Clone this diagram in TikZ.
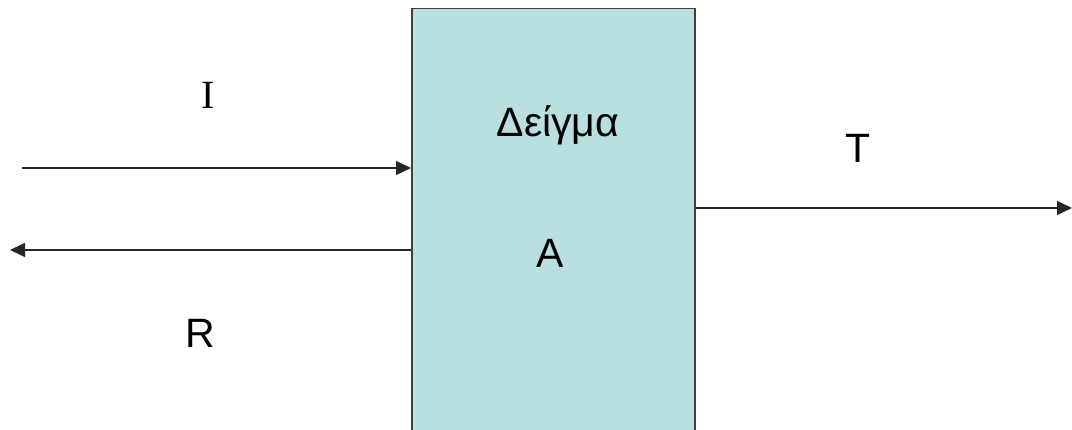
\documentclass[tikz,border=0pt]{standalone}
\usepackage{fontspec}
\setmainfont{Liberation Sans}
\newfontfamily\serifI{Liberation Serif}
\usetikzlibrary{arrows.meta}
\definecolor{boxfill}{HTML}{B9DFE1}
\definecolor{boxline}{HTML}{404040}
\tikzset{
  conn/.style={line width=1.4pt, draw=black!85, -{Triangle[length=15pt,width=14pt]}},
  lbl/.style={anchor=base, inner sep=0pt, font=\fontsize{41}{43}\selectfont},
  sample/.style={draw=boxline, line width=1.5pt, fill=boxfill, minimum width=283pt, minimum height=460pt, anchor=north west, inner sep=0pt}
}
\begin{document}
\begin{tikzpicture}[x=1pt,y=1pt]
\useasboundingbox (0,0) rectangle (1072,430);
\clip (0,0) rectangle (1072,430);
\fill[white] (0,0) rectangle (1072,430);
\node[sample] (box) at (411,422) {};
\node[lbl] (name) at (558,293) {Δείγμα};
\node[lbl] (a) at (550,162) {A};
\node[lbl, font=\fontsize{40}{42}\selectfont\serifI] (i) at (208,321) {I};
\node[lbl] (r) at (200,82) {R};
\node[lbl] (t) at (858,267) {T};
\coordinate (iin) at (22,262);
\coordinate (rout) at (10,180);
\coordinate (tout) at (1072,222);
\draw[conn] (iin) -- (iin -| box.west);
\draw[conn] (rout -| box.west) -- (rout);
\draw[conn] (tout -| box.east) -- (tout);
\end{tikzpicture}
\end{document}
